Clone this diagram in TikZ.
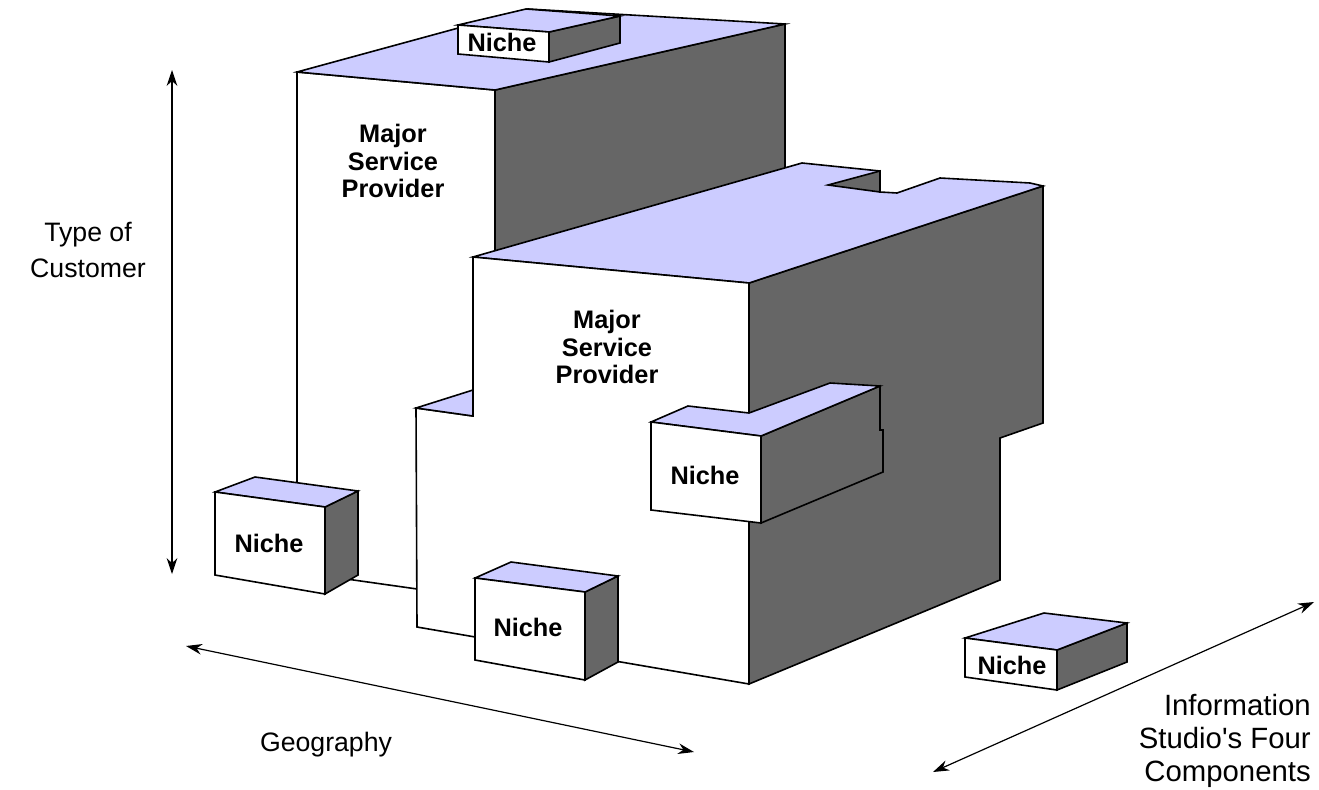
\documentclass[tikz,border=0pt]{standalone}
\usepackage{fontspec}
\setmainfont{Liberation Sans}
\usetikzlibrary{arrows.meta}
\definecolor{roofblue}{HTML}{CCCCFF}
\definecolor{sidegray}{HTML}{666666}
\tikzset{
  wall/.style={draw=black, line width=1.2pt, line join=miter, fill=white},
  side/.style={wall, fill=sidegray},
  roof/.style={wall, fill=roofblue},
  axis/.style={{Stealth[length=12pt,width=8pt]}-{Stealth[length=12pt,width=8pt]}, line width=0.9pt},
  lbl/.style={font=\fontsize{20}{27}\selectfont, align=center, inner sep=0pt},
  infolbl/.style={font=\fontsize{22}{25}\selectfont, align=right, inner sep=0pt},
  tag/.style={font=\bfseries\fontsize{19}{20.5}\selectfont, align=center, inner sep=0pt},
}
\begin{document}
\begin{tikzpicture}[x=0.75pt, y=-0.75pt]
    \useasboundingbox (0,0) rectangle (1319,789);
    % back provider
    \filldraw[side] (495,90) -- (785,24) -- (785,175) -- (495,270) -- cycle;
    \filldraw[wall] (297,72) -- (495,90) -- (495,600) -- (297,572) -- cycle;
    \filldraw[roof] (297,72) -- (495,90) -- (785,24) -- (528,9) -- cycle;
    \node[tag] (major1) at (393,161) {Major\\Service\\Provider};
    % niche on the roof
    \filldraw[side] (549,32) -- (620,16) -- (620,43) -- (549,62) -- cycle;
    \filldraw[roof] (458,25) -- (526,9) -- (620,16) -- (549,32) -- cycle;
    \filldraw[wall] (458,25) -- (549,32) -- (549,62) -- (458,54) -- cycle;
    \node[tag] (niche1) at (502,42) {Niche};
    % front provider
    \filldraw[side] (749,283) -- (1043,186) -- (1043,423) -- (1000,438)
        -- (1000,580) -- (749,684) -- cycle;
    \filldraw[roof] (473,257) -- (802,163) -- (880,171) -- (880,192) -- (897,193)
        -- (940,178) -- (1030,183) -- (1043,186) -- (749,283) -- cycle;
    \filldraw[side] (828,185) -- (880,171) -- (880,192) -- cycle;
    \filldraw[wall] (416,408) -- (473,416) -- (473,257) -- (749,283)
        -- (749,684) -- (417,627) -- cycle;
    \filldraw[roof] (416,408) -- (473,390) -- (473,416) -- cycle;
    \node[tag] (major2) at (607,347) {Major\\Service\\Provider};
    % niche at the corner
    \filldraw[side] (761,436) -- (880,386) -- (880,430) -- (883,430) -- (883,472)
        -- (761,523) -- cycle;
    \filldraw[roof] (651,422) -- (688,406) -- (749,413) -- (830,383) -- (880,386)
        -- (761,436) -- cycle;
    \filldraw[wall] (651,422) -- (761,436) -- (761,523) -- (651,510) -- cycle;
    \node[tag] (niche4) at (705,475) {Niche};
    % niche on the left
    \filldraw[side] (325,507) -- (358,491) -- (358,575) -- (325,594) -- cycle;
    \filldraw[roof] (215,492) -- (255,477) -- (358,491) -- (325,507) -- cycle;
    \filldraw[wall] (215,492) -- (325,507) -- (325,594) -- (215,575) -- cycle;
    \node[tag] (niche2) at (269,543) {Niche};
    % niche in front
    \filldraw[side] (585,592) -- (618,576) -- (618,662) -- (585,680) -- cycle;
    \filldraw[roof] (475,578) -- (511,562) -- (618,576) -- (585,592) -- cycle;
    \filldraw[wall] (475,578) -- (585,592) -- (585,680) -- (475,660) -- cycle;
    \node[tag] (niche3) at (528,627) {Niche};
    % niche on its own
    \filldraw[side] (1057,650) -- (1127,623) -- (1127,662) -- (1057,690) -- cycle;
    \filldraw[roof] (965,638) -- (1044,613) -- (1127,623) -- (1057,650) -- cycle;
    \filldraw[wall] (965,638) -- (1057,650) -- (1057,690) -- (965,677) -- cycle;
    \node[tag] (niche5) at (1012,665) {Niche};
    % axes
    \coordinate (custTop) at (172,70);
    \coordinate (custBot) at (172,574);
    \coordinate (geoL) at (186,646);
    \coordinate (geoR) at (694,752);
    \coordinate (infoL) at (933,772);
    \coordinate (infoR) at (1314,602);
    \draw[axis] (custTop) -- (custBot);
    \draw[axis] (geoL) -- (geoR);
    \draw[axis] (infoL) -- (infoR);
    \node[lbl] (customer) at (88,250) {Type of\\Customer};
    \node[lbl] (geography) at (326,745) {Geography};
    \node[infolbl, anchor=east] (info) at (1311,741) {Information\\Studio\textquotesingle s Four\\Components};
\end{tikzpicture}
\end{document}
